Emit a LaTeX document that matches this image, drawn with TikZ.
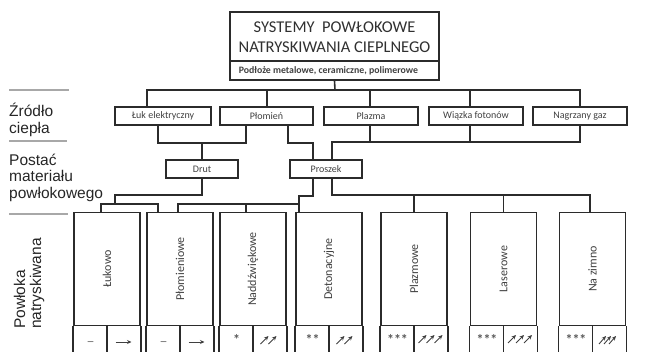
\documentclass[tikz,border=0pt]{standalone}
\usepackage{fontspec}
\setmainfont{Carlito}
\newfontfamily\arialfont{Liberation Sans}
\usetikzlibrary{arrows.meta}
\definecolor{ink}{HTML}{2B2B2B}
\definecolor{txt}{HTML}{404040}
\definecolor{ttl}{HTML}{303030}
\definecolor{rulegray}{HTML}{A8A8A8}
\tikzset{
  frame/.style={draw=ink, line width=1.7pt},
  box/.style={frame, inner sep=0pt, text=txt, font=\fontsize{10}{12}\selectfont},
  hbox/.style={box, minimum height=18pt},
  coat/.style={frame, inner sep=0pt, minimum width=66pt, minimum height=113pt},
  vlabel/.style={rotate=90, text=txt, font=\fontsize{12}{14}\selectfont, inner sep=0pt},
  conn/.style={draw=ink, line width=1.6pt},
  cellline/.style={draw=ink, line width=1.4pt},
  cellsym/.style={text=black!65, font=\bfseries\fontsize{14}{14}\selectfont, anchor=base, inner sep=0pt},
  dashsym/.style={text=black!50, font=\fontsize{16}{16}\selectfont, anchor=base, inner sep=0pt},
  arr/.style={draw=black!75, line width=0.9pt, -{Stealth[length=4.5pt,width=4pt]}},
  lbl/.style={font=\arialfont\fontsize{15.5}{17}\selectfont, text=black!85, inner sep=0pt, anchor=base west},
  sepline/.style={draw=rulegray, line width=2pt},
  twoarr/.pic={\draw[arr] (-9,4) -- (-1,-4); \draw[arr] (-1,4) -- (7,-4);},
  threearr/.pic={\draw[arr] (-12,4) -- (-4,-4); \draw[arr] (-4,4) -- (4,-4); \draw[arr] (4,4) -- (12,-4);},
  tightarr/.pic={\draw[arr] (-10,5) -- (-3,-3); \draw[arr] (-5,5) -- (2,-3); \draw[arr] (0,5) -- (7,-3);},
}
\begin{document}
\begin{tikzpicture}[x=1pt,y=-1pt]
\useasboundingbox (0,0) rectangle (655,351);

% top box
\node[frame, minimum width=209pt, minimum height=68pt, inner sep=0pt] (top) at (334.5,46) {};
\node[text=ttl, font=\fontsize{16.5}{20}\selectfont, align=center, inner sep=0pt] (title) at (334.5,37) {SYSTEMY\ \ POWŁOKOWE\\NATRYSKIWANIA CIEPLNEGO};
\draw[frame] (top.west |- 0,61) -- (top.east |- 0,61);
\node[text=txt, font=\bfseries\fontsize{9.8}{11}\selectfont, inner sep=0pt] (sub) at (328.5,71) {Podłoże metalowe, ceramiczne, polimerowe};

% heat sources
\node[hbox, minimum width=96pt] (luk) at (163,116) {Łuk elektryczny};
\node[hbox, minimum width=93pt] (plom) at (266.5,116) {Płomień};
\node[hbox, minimum width=94pt] (plaz) at (371,116) {Plazma};
\node[hbox, minimum width=94pt] (wiaz) at (476,116) {Wiązka fotonów};
\node[hbox, minimum width=94pt] (nagr) at (580,116) {Nagrzany gaz};

% material forms
\node[hbox, minimum width=72pt] (drut) at (202,169) {Drut};
\node[hbox, minimum width=72pt] (prosz) at (326,169) {Proszek};

% coatings
\node[coat] (lukowo) at (107,269) {};
\node[coat] (plomw) at (180,269) {};
\node[coat] (nadd) at (253,269) {};
\node[coat] (deton) at (329,269) {};
\node[coat] (plazm) at (414,269) {};
\node[coat] (laser) at (503.5,269) {};
\node[coat] (zimno) at (592.5,269) {};
\node[vlabel] (tl1) at (lukowo) {Łukowo};
\node[vlabel] (tl2) at (plomw) {Płomieniowe};
\node[vlabel] (tl3) at (nadd) {Naddźwiękowe};
\node[vlabel] (tl4) at (deton) {Detonacyjne};
\node[vlabel] (tl5) at (plazm) {Plazmowe};
\node[vlabel] (tl6) at (laser) {Laserowe};
\node[vlabel] (tl7) at (zimno) {Na zimno};

\foreach \n in {lukowo,plomw,nadd,deton,plazm,laser,zimno}{
  \draw[cellline] (\n.south west) -- ++(0,30);
  \draw[cellline] (\n.south east) -- ++(0,30);
  \draw[cellline] (\n.south) -- ++(0,30);
}

% cell symbols
\node[dashsym] (c1) at (90.5,346.5) {–};
\node[dashsym] (c2) at (163.5,346.5) {–};
\node[cellsym] (c3) at (236.5,344) {*};
\node[cellsym] (c4) at (312.5,344) {**};
\node[cellsym] (c5) at (397.5,344) {***};
\node[cellsym] (c6) at (487,344) {***};
\node[cellsym] (c7) at (576,344) {***};
\draw[arr] (115.5,342) -- (131.5,342);
\draw[arr] (188.5,342) -- (204.5,342);
\pic at (269.5,340) {twoarr};
\pic at (345.5,340) {twoarr};
\pic at (430.5,339) {threearr};
\pic at (520,339) {threearr};
\pic at (609,339) {tightarr};

% connectors: top level
\draw[conn] (top.south) -- (335,90);
\draw[conn] (147,0 |- luk.north) -- (147,90) -- (580,90) -- (580,0 |- nagr.north);
\draw[conn] (267,90) -- (267,0 |- plom.north);
\draw[conn] (370,90) -- (370,0 |- plaz.north);
\draw[conn] (470,90) -- (470,0 |- wiaz.north);

% second level
\draw[conn] (158,0 |- luk.south) -- (158,143) -- (246,143) -- (246,0 |- plom.south);
\draw[conn] (202,143) -- (drut.north);
\draw[conn] (288,0 |- plom.south) -- (288,143) -- (313,143) -- (313,0 |- prosz.north);
\draw[conn] (370,0 |- plaz.south) -- (370,142);
\draw[conn] (470,0 |- wiaz.south) -- (470,142);
\draw[conn] (580,0 |- nagr.south) -- (580,142) -- (332,142) -- (332,0 |- prosz.north);

% third level
\draw[conn] (drut.south) -- (202,195) -- (115,195) -- (115,204);
\draw[conn] (101,0 |- lukowo.north) -- (101,204) -- (158,204) -- (158,0 |- plomw.north);
\draw[conn] (313,0 |- prosz.south) -- (313,196) -- (299,196) -- (299,0 |- deton.north);
\draw[conn] (178,0 |- plomw.north) -- (178,204) -- (299,204);
\draw[conn] (246,204) -- (246,0 |- nadd.north);
\draw[conn] (332,0 |- prosz.south) -- (332,195) -- (590,195) -- (590,0 |- zimno.north);
\draw[conn] (414,195) -- (plazm.north);
\draw[conn] (503.5,195) -- (laser.north);

% left labels
\draw[sepline] (9,90) -- (69,90);
\draw[sepline] (9,141) -- (67,141);
\draw[sepline] (9,214) -- (68,214);
\node[lbl] (zr1) at (9,116) {Źródło};
\node[lbl] (zr2) at (9,133) {ciepła};
\node[lbl] (pm1) at (9,165) {Postać};
\node[lbl] (pm2) at (9,181.5) {materiału};
\node[lbl] (pm3) at (9,198) {powłokowego};
\node[lbl, rotate=90] (pw1) at (25,329) {Powłoka};
\node[lbl, rotate=90] (pw2) at (41,329) {natryskiwana};
\end{tikzpicture}
\end{document}
